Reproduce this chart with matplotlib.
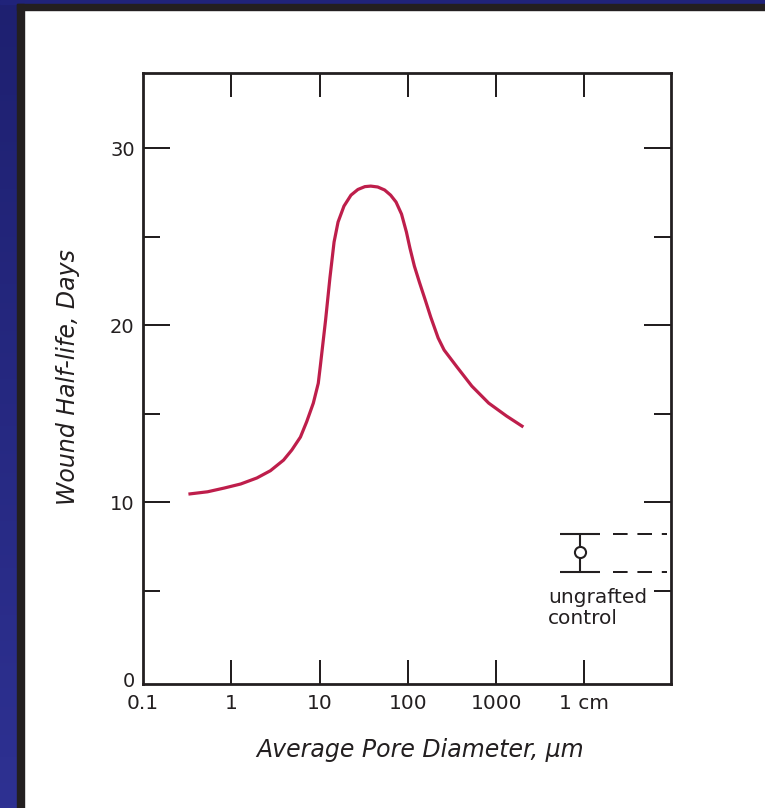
import matplotlib.pyplot as plt
import numpy as np
from matplotlib.patches import Rectangle
from matplotlib.colors import LinearSegmentedColormap

# wound half-life vs average pore diameter (um)
pore_um = [0.327, 0.539, 0.83, 1.278, 1.95, 2.775, 3.91, 4.85, 6.07, 7.15,
           8.5, 9.67, 10.2, 11.7, 13.1, 14.6, 16.2, 18.9, 22.7, 27.2, 32.6,
           38.0, 45.6, 54.6, 63.8, 73.5, 84.8, 96.4, 105.6, 118.6, 135, 157.6,
           181.7, 220.5, 257.5, 360.4, 530.9, 823.9, 1312, 2035]
half_life = [10.45, 10.58, 10.79, 11.02, 11.36, 11.77, 12.37, 12.94, 13.67,
             14.54, 15.59, 16.71, 17.68, 20.28, 22.66, 24.69, 25.82, 26.72,
             27.34, 27.66, 27.82, 27.85, 27.80, 27.63, 27.34, 26.95, 26.27,
             25.25, 24.35, 23.33, 22.43, 21.41, 20.45, 19.27, 18.59, 17.63,
             16.55, 15.59, 14.86, 14.24]

# ungrafted control
ctrl_x = 8900
ctrl_mean = 7.2
ctrl_low = 6.05
ctrl_high = 8.2

xticks = [0.1, 1, 10, 100, 1000, 10000]
xticklabels = ['0.1', '1', '10', '100', '1000', '1 cm']
yticks = [0, 10, 20, 30]
yminor = [5, 15, 25]

ink = '#231F20'
red = '#BE1E4B'

fig = plt.figure(figsize=(7.65, 8.08), dpi=100)
W, H = 765, 808

# navy slide edge with dark rule
band = fig.add_axes([0, 0, 17 / W, 1])
grad = np.linspace(0, 1, 256).reshape(-1, 1)
cmap = LinearSegmentedColormap.from_list('edge', ['#1E2070', '#2E3192'])
band.imshow(grad, aspect='auto', cmap=cmap, extent=[0, 1, 0, 1], origin='upper')
band.axis('off')
fig.patches.append(Rectangle((0, 1 - 4 / H), 1, 4 / H, transform=fig.transFigure,
                             color='#20237A', zorder=0))
fig.patches.append(Rectangle((17 / W, 0), 7 / W, 1 - 4 / H, transform=fig.transFigure,
                             color=ink, zorder=0))
fig.patches.append(Rectangle((17 / W, 1 - 10 / H), 1, 6 / H, transform=fig.transFigure,
                             color=ink, zorder=0))

ax = fig.add_axes([143 / W, 1 - 684 / H, 528 / W, 611 / H])
ax.set_xscale('log')
ax.set_xlim(10 ** -0.945, 10 ** 4.981)
ax.set_ylim(-0.28, 34.24)

ax.plot(pore_um, half_life, color=red, lw=2.3, solid_capstyle='butt',
        solid_joinstyle='round')

ax.errorbar([ctrl_x], [ctrl_mean],
            yerr=[[ctrl_mean - ctrl_low], [ctrl_high - ctrl_mean]],
            fmt='o', ms=8, mfc='white', mec=ink, mew=1.5,
            ecolor=ink, elinewidth=1.5, capsize=14.5, capthick=1.5, zorder=3)
ax.hlines([ctrl_high, ctrl_low], 2.1e4, 8.6e4, colors=ink, lw=1.44,
          linestyles=[(0, (7.3, 4.9))])
ax.text(3880, 5.14, 'ungrafted\ncontrol', ha='left', va='top', fontsize=14.5,
        color=ink, linespacing=1.15)

ax.set_xticks(xticks)
ax.set_xticklabels(xticklabels)
ax.xaxis.set_minor_locator(plt.NullLocator())
ax.set_yticks(yticks)
ax.set_yticks(yminor, minor=True)

ax.tick_params(axis='x', which='major', direction='in', top=True, bottom=True,
               length=17.3, width=1.44, color=ink, labelsize=14.5,
               labelcolor=ink, pad=7)
ax.tick_params(axis='y', which='major', direction='in', left=True, right=True,
               length=19.5, width=1.44, color=ink, labelsize=14,
               labelcolor=ink, pad=6)
ax.tick_params(axis='y', which='minor', direction='in', left=True, right=True,
               length=12, width=1.44, color=ink)

# no marks where the first ticks sit on the frame
for t in [ax.xaxis.get_major_ticks()[0], ax.yaxis.get_major_ticks()[0]]:
    t.tick1line.set_visible(False)
    t.tick2line.set_visible(False)

for s in ax.spines.values():
    s.set_color(ink)
    s.set_linewidth(2)

fig.text(68 / W, 1 - 377 / H, 'Wound Half-life, Days', rotation=90,
         ha='center', va='center', fontsize=17, style='italic', color=ink)
fig.text(420 / W, 1 - 750 / H, 'Average Pore Diameter, μm',
         ha='center', va='center', fontsize=17, style='italic', color=ink)

fig.savefig('out.png', dpi=100, facecolor='white')
